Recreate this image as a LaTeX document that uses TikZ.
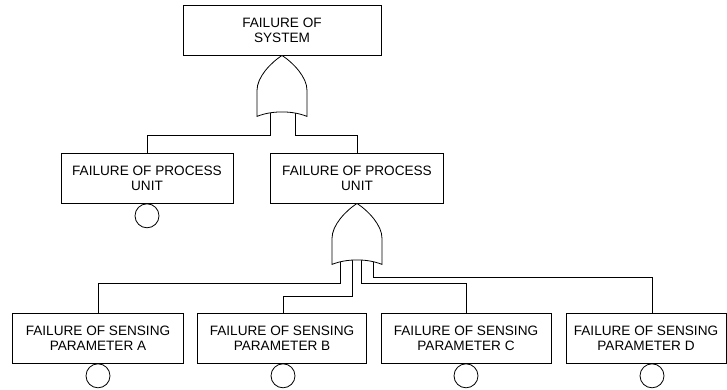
\documentclass[tikz,border=0pt]{standalone}
\usepackage{fontspec}
\setmainfont{Liberation Sans}
\tikzset{
  ev/.style={draw, line width=0.8pt, align=center, inner sep=0pt,
    font=\fontsize{13.6}{15}\selectfont, minimum height=50pt},
  basic/.style={draw, circle, minimum size=24pt, inner sep=0pt, line width=0.8pt},
  wire/.style={line width=0.8pt},
  orgate/.pic={
    \draw[fill=white, line width=0.8pt] (0,0) .. controls (12,8) and (25,22) .. (25,35)
      -- (25,61) .. controls (10,55) and (-10,55) .. (-25,61)
      -- (-25,35) .. controls (-25,22) and (-12,8) .. (0,0);
  }
}
\begin{document}
\begin{tikzpicture}[x=1pt, y=-1pt]
\useasboundingbox (0,0) rectangle (727,389);

% event boxes
\node[ev, minimum width=198pt] (top) at (282,30) {FAILURE OF\\SYSTEM};
\node[ev, minimum width=172pt] (pu1) at (147,178) {FAILURE OF PROCESS\\UNIT};
\node[ev, minimum width=173pt] (pu2) at (357,178) {FAILURE OF PROCESS\\UNIT};
\node[ev, minimum width=171pt] (sa) at (98,338) {FAILURE OF SENSING\\PARAMETER A};
\node[ev, minimum width=169pt] (sb) at (282,338) {FAILURE OF SENSING\\PARAMETER B};
\node[ev, minimum width=170pt] (sc) at (466,338) {FAILURE OF SENSING\\PARAMETER C};
\node[ev, minimum width=160pt] (sd) at (646,338) {FAILURE OF SENSING\\PARAMETER D};

% bend points and gate inputs
\coordinate (g1l) at (270,105);
\coordinate (g1r) at (295,105);
\coordinate (k1) at (147,135);
\coordinate (k2) at (357,135);

\coordinate (g2a) at (340,250);
\coordinate (g2b) at (352,250);
\coordinate (g2c) at (361,250);
\coordinate (g2d) at (373,250);
\coordinate (ka) at (98,283);
\coordinate (kb) at (283,296);
\coordinate (kc) at (466,283);
\coordinate (kd) at (652,277);

% basic events
\node[basic, anchor=north] (e1) at (pu1.south) {};
\node[basic, anchor=north] (ea) at (sa.south) {};
\node[basic, anchor=north] (eb) at (sb.south -| kb) {};
\node[basic, anchor=north] (ec) at (sc.south) {};
\node[basic, anchor=north] (ed) at (sd.south -| kd) {};

% wires
\draw[wire] (g1l) |- (k1) -- (pu1.north);
\draw[wire] (g1r) |- (k2) -- (pu2.north);
\draw[wire] (g2a) |- (ka) -- (ka |- sa.north);
\draw[wire] (g2b) |- (kb) -- (kb |- sb.north);
\draw[wire] (g2c) |- (kc) -- (kc |- sc.north);
\draw[wire] (g2d) |- (kd) -- (kd |- sd.north);

% gates
\pic at (top.south) {orgate};
\pic at (pu2.south) {orgate};
\end{tikzpicture}
\end{document}
